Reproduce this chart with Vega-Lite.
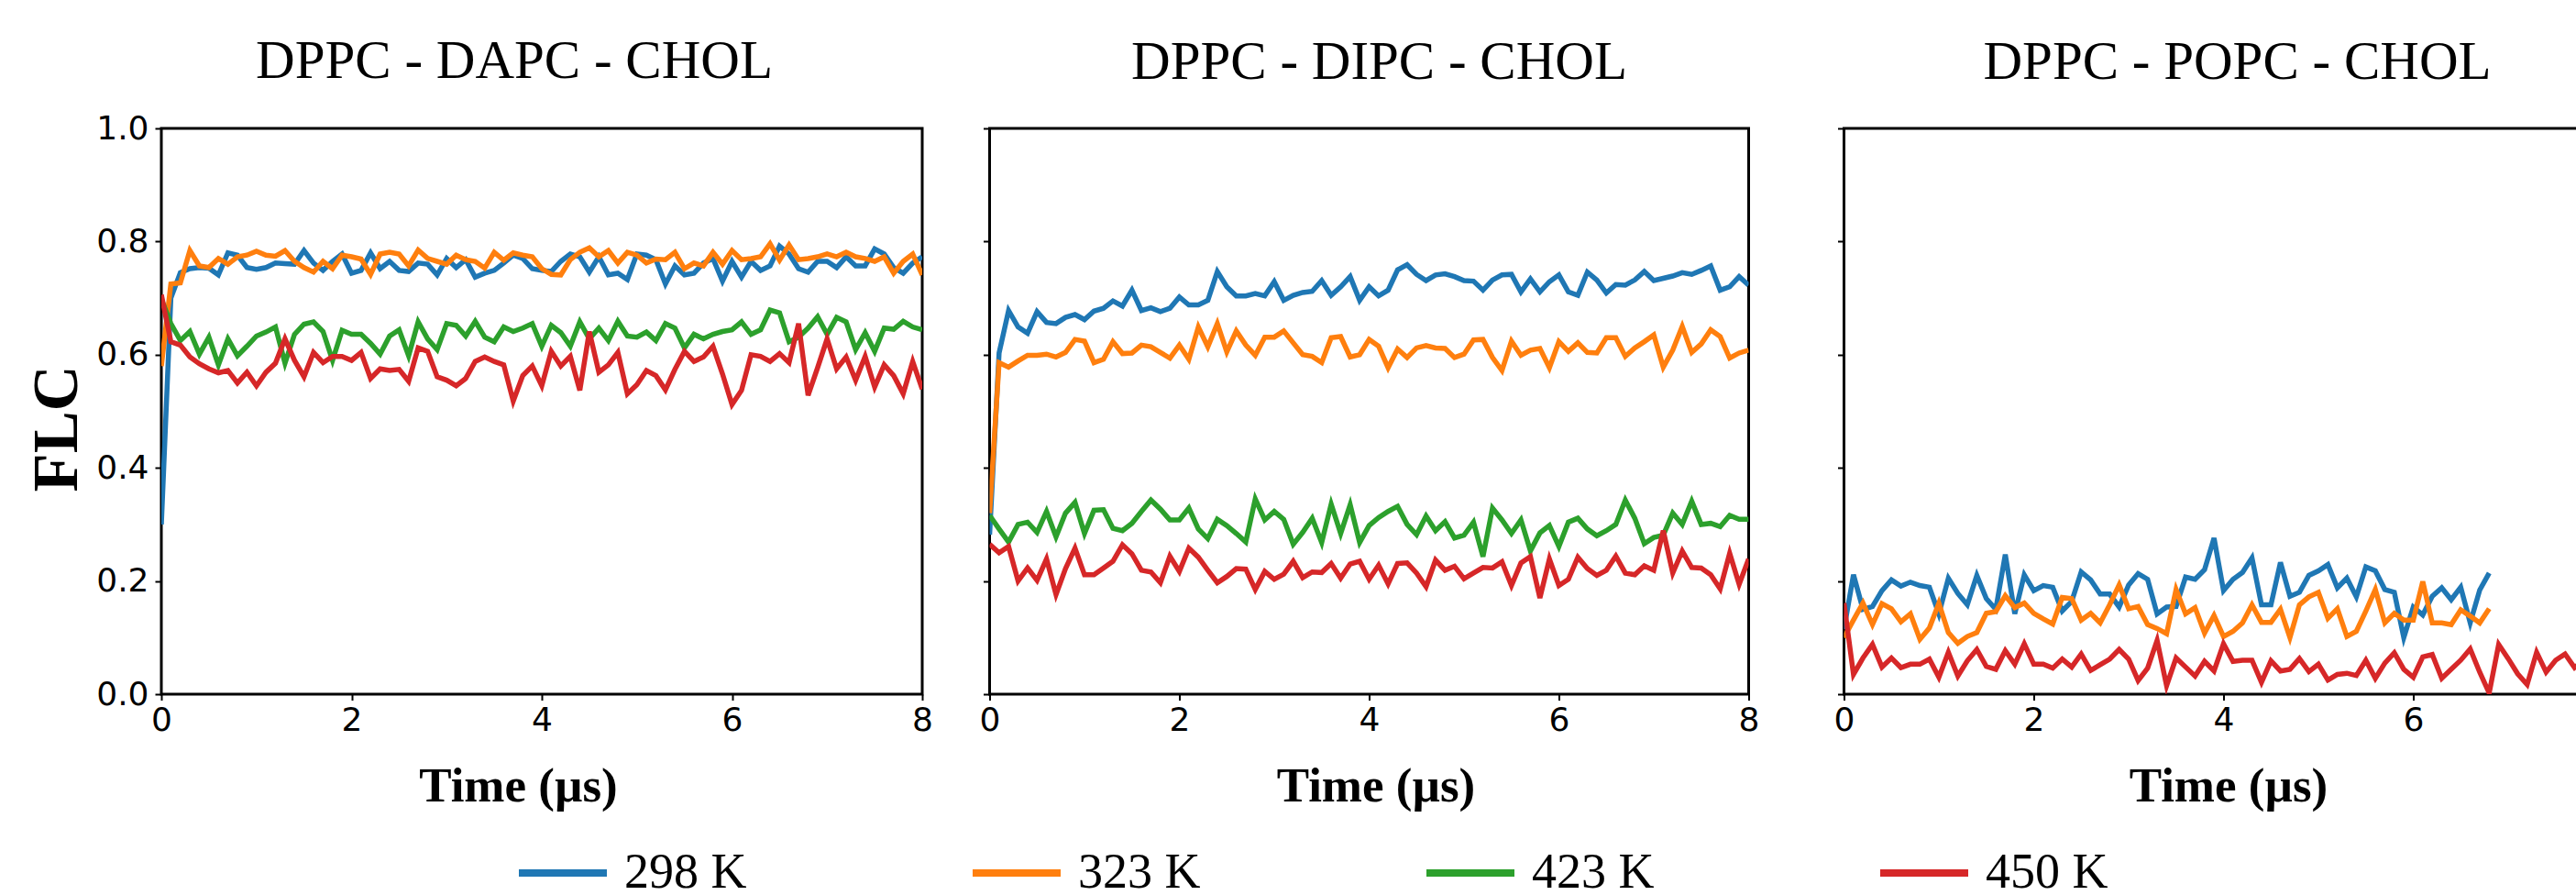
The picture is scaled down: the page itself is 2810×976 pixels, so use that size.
{
"$schema": "https://vega.github.io/schema/vega-lite/v6.json",
"background": "white",
"padding": {"left": 26, "top": 36, "right": 0, "bottom": 0},
"spacing": 77.5,
"datasets": {
"p1": [
{"t":0,"v":0.30,"T":"298 K"},{"t":0.1,"v":0.70,"T":"298 K"},{"t":0.2,"v":0.745,"T":"298 K"},{"t":0.3,"v":0.752,"T":"298 K"},{"t":0.4,"v":0.754,"T":"298 K"},{"t":0.5,"v":0.753,"T":"298 K"},{"t":0.6,"v":0.741,"T":"298 K"},{"t":0.7,"v":0.780,"T":"298 K"},{"t":0.8,"v":0.776,"T":"298 K"},{"t":0.9,"v":0.754,"T":"298 K"},
{"t":1.0,"v":0.751,"T":"298 K"},{"t":1.1,"v":0.754,"T":"298 K"},{"t":1.2,"v":0.762,"T":"298 K"},{"t":1.3,"v":0.761,"T":"298 K"},{"t":1.4,"v":0.760,"T":"298 K"},{"t":1.5,"v":0.784,"T":"298 K"},{"t":1.6,"v":0.762,"T":"298 K"},{"t":1.7,"v":0.749,"T":"298 K"},{"t":1.8,"v":0.765,"T":"298 K"},{"t":1.9,"v":0.778,"T":"298 K"},
{"t":2.0,"v":0.744,"T":"298 K"},{"t":2.1,"v":0.749,"T":"298 K"},{"t":2.2,"v":0.780,"T":"298 K"},{"t":2.3,"v":0.752,"T":"298 K"},{"t":2.4,"v":0.765,"T":"298 K"},{"t":2.5,"v":0.749,"T":"298 K"},{"t":2.6,"v":0.747,"T":"298 K"},{"t":2.7,"v":0.762,"T":"298 K"},{"t":2.8,"v":0.760,"T":"298 K"},{"t":2.9,"v":0.741,"T":"298 K"},
{"t":3.0,"v":0.770,"T":"298 K"},{"t":3.1,"v":0.754,"T":"298 K"},{"t":3.2,"v":0.768,"T":"298 K"},{"t":3.3,"v":0.737,"T":"298 K"},{"t":3.4,"v":0.744,"T":"298 K"},{"t":3.5,"v":0.749,"T":"298 K"},{"t":3.6,"v":0.762,"T":"298 K"},{"t":3.7,"v":0.776,"T":"298 K"},{"t":3.8,"v":0.770,"T":"298 K"},{"t":3.9,"v":0.752,"T":"298 K"},
{"t":4.0,"v":0.749,"T":"298 K"},{"t":4.1,"v":0.747,"T":"298 K"},{"t":4.2,"v":0.765,"T":"298 K"},{"t":4.3,"v":0.778,"T":"298 K"},{"t":4.4,"v":0.773,"T":"298 K"},{"t":4.5,"v":0.746,"T":"298 K"},{"t":4.6,"v":0.773,"T":"298 K"},{"t":4.7,"v":0.741,"T":"298 K"},{"t":4.8,"v":0.744,"T":"298 K"},{"t":4.9,"v":0.733,"T":"298 K"},
{"t":5.0,"v":0.778,"T":"298 K"},{"t":5.1,"v":0.776,"T":"298 K"},{"t":5.2,"v":0.768,"T":"298 K"},{"t":5.3,"v":0.725,"T":"298 K"},{"t":5.4,"v":0.757,"T":"298 K"},{"t":5.5,"v":0.741,"T":"298 K"},{"t":5.6,"v":0.744,"T":"298 K"},{"t":5.7,"v":0.762,"T":"298 K"},{"t":5.8,"v":0.770,"T":"298 K"},{"t":5.9,"v":0.730,"T":"298 K"},
{"t":6.0,"v":0.765,"T":"298 K"},{"t":6.1,"v":0.737,"T":"298 K"},{"t":6.2,"v":0.765,"T":"298 K"},{"t":6.3,"v":0.749,"T":"298 K"},{"t":6.4,"v":0.757,"T":"298 K"},{"t":6.5,"v":0.792,"T":"298 K"},{"t":6.6,"v":0.778,"T":"298 K"},{"t":6.7,"v":0.752,"T":"298 K"},{"t":6.8,"v":0.746,"T":"298 K"},{"t":6.9,"v":0.765,"T":"298 K"},
{"t":7.0,"v":0.765,"T":"298 K"},{"t":7.1,"v":0.754,"T":"298 K"},{"t":7.2,"v":0.773,"T":"298 K"},{"t":7.3,"v":0.757,"T":"298 K"},{"t":7.4,"v":0.757,"T":"298 K"},{"t":7.5,"v":0.787,"T":"298 K"},{"t":7.6,"v":0.778,"T":"298 K"},{"t":7.7,"v":0.754,"T":"298 K"},{"t":7.8,"v":0.744,"T":"298 K"},{"t":7.9,"v":0.762,"T":"298 K"},{"t":8.0,"v":0.773,"T":"298 K"},
{"t":0,"v":0.58,"T":"323 K"},{"t":0.1,"v":0.725,"T":"323 K"},{"t":0.2,"v":0.727,"T":"323 K"},{"t":0.3,"v":0.784,"T":"323 K"},{"t":0.4,"v":0.757,"T":"323 K"},{"t":0.5,"v":0.754,"T":"323 K"},{"t":0.6,"v":0.770,"T":"323 K"},{"t":0.7,"v":0.760,"T":"323 K"},{"t":0.8,"v":0.773,"T":"323 K"},{"t":0.9,"v":0.776,"T":"323 K"},
{"t":1.0,"v":0.783,"T":"323 K"},{"t":1.1,"v":0.776,"T":"323 K"},{"t":1.2,"v":0.774,"T":"323 K"},{"t":1.3,"v":0.784,"T":"323 K"},{"t":1.4,"v":0.765,"T":"323 K"},{"t":1.5,"v":0.754,"T":"323 K"},{"t":1.6,"v":0.746,"T":"323 K"},{"t":1.7,"v":0.765,"T":"323 K"},{"t":1.8,"v":0.752,"T":"323 K"},{"t":1.9,"v":0.776,"T":"323 K"},
{"t":2.0,"v":0.773,"T":"323 K"},{"t":2.1,"v":0.769,"T":"323 K"},{"t":2.2,"v":0.742,"T":"323 K"},{"t":2.3,"v":0.778,"T":"323 K"},{"t":2.4,"v":0.781,"T":"323 K"},{"t":2.5,"v":0.778,"T":"323 K"},{"t":2.6,"v":0.757,"T":"323 K"},{"t":2.7,"v":0.785,"T":"323 K"},{"t":2.8,"v":0.770,"T":"323 K"},{"t":2.9,"v":0.765,"T":"323 K"},
{"t":3.0,"v":0.760,"T":"323 K"},{"t":3.1,"v":0.776,"T":"323 K"},{"t":3.2,"v":0.768,"T":"323 K"},{"t":3.3,"v":0.765,"T":"323 K"},{"t":3.4,"v":0.753,"T":"323 K"},{"t":3.5,"v":0.781,"T":"323 K"},{"t":3.6,"v":0.767,"T":"323 K"},{"t":3.7,"v":0.780,"T":"323 K"},{"t":3.8,"v":0.776,"T":"323 K"},{"t":3.9,"v":0.773,"T":"323 K"},
{"t":4.0,"v":0.752,"T":"323 K"},{"t":4.1,"v":0.742,"T":"323 K"},{"t":4.2,"v":0.741,"T":"323 K"},{"t":4.3,"v":0.768,"T":"323 K"},{"t":4.4,"v":0.781,"T":"323 K"},{"t":4.5,"v":0.789,"T":"323 K"},{"t":4.6,"v":0.773,"T":"323 K"},{"t":4.7,"v":0.784,"T":"323 K"},{"t":4.8,"v":0.762,"T":"323 K"},{"t":4.9,"v":0.781,"T":"323 K"},
{"t":5.0,"v":0.776,"T":"323 K"},{"t":5.1,"v":0.762,"T":"323 K"},{"t":5.2,"v":0.769,"T":"323 K"},{"t":5.3,"v":0.768,"T":"323 K"},{"t":5.4,"v":0.781,"T":"323 K"},{"t":5.5,"v":0.752,"T":"323 K"},{"t":5.6,"v":0.762,"T":"323 K"},{"t":5.7,"v":0.757,"T":"323 K"},{"t":5.8,"v":0.781,"T":"323 K"},{"t":5.9,"v":0.760,"T":"323 K"},
{"t":6.0,"v":0.784,"T":"323 K"},{"t":6.1,"v":0.768,"T":"323 K"},{"t":6.2,"v":0.770,"T":"323 K"},{"t":6.3,"v":0.773,"T":"323 K"},{"t":6.4,"v":0.796,"T":"323 K"},{"t":6.5,"v":0.767,"T":"323 K"},{"t":6.6,"v":0.794,"T":"323 K"},{"t":6.7,"v":0.768,"T":"323 K"},{"t":6.8,"v":0.770,"T":"323 K"},{"t":6.9,"v":0.773,"T":"323 K"},
{"t":7.0,"v":0.778,"T":"323 K"},{"t":7.1,"v":0.773,"T":"323 K"},{"t":7.2,"v":0.781,"T":"323 K"},{"t":7.3,"v":0.773,"T":"323 K"},{"t":7.4,"v":0.770,"T":"323 K"},{"t":7.5,"v":0.765,"T":"323 K"},{"t":7.6,"v":0.773,"T":"323 K"},{"t":7.7,"v":0.744,"T":"323 K"},{"t":7.8,"v":0.765,"T":"323 K"},{"t":7.9,"v":0.778,"T":"323 K"},{"t":8.0,"v":0.741,"T":"323 K"},
{"t":0,"v":0.698,"T":"423 K"},{"t":0.1,"v":0.655,"T":"423 K"},{"t":0.2,"v":0.625,"T":"423 K"},{"t":0.3,"v":0.641,"T":"423 K"},{"t":0.4,"v":0.601,"T":"423 K"},{"t":0.5,"v":0.631,"T":"423 K"},{"t":0.6,"v":0.582,"T":"423 K"},{"t":0.7,"v":0.628,"T":"423 K"},{"t":0.8,"v":0.598,"T":"423 K"},{"t":0.9,"v":0.615,"T":"423 K"},
{"t":1.0,"v":0.633,"T":"423 K"},{"t":1.1,"v":0.640,"T":"423 K"},{"t":1.2,"v":0.649,"T":"423 K"},{"t":1.3,"v":0.585,"T":"423 K"},{"t":1.4,"v":0.636,"T":"423 K"},{"t":1.5,"v":0.654,"T":"423 K"},{"t":1.6,"v":0.658,"T":"423 K"},{"t":1.7,"v":0.641,"T":"423 K"},{"t":1.8,"v":0.590,"T":"423 K"},{"t":1.9,"v":0.643,"T":"423 K"},
{"t":2.0,"v":0.636,"T":"423 K"},{"t":2.1,"v":0.636,"T":"423 K"},{"t":2.2,"v":0.620,"T":"423 K"},{"t":2.3,"v":0.601,"T":"423 K"},{"t":2.4,"v":0.633,"T":"423 K"},{"t":2.5,"v":0.644,"T":"423 K"},{"t":2.6,"v":0.598,"T":"423 K"},{"t":2.7,"v":0.658,"T":"423 K"},{"t":2.8,"v":0.628,"T":"423 K"},{"t":2.9,"v":0.609,"T":"423 K"},
{"t":3.0,"v":0.655,"T":"423 K"},{"t":3.1,"v":0.652,"T":"423 K"},{"t":3.2,"v":0.633,"T":"423 K"},{"t":3.3,"v":0.659,"T":"423 K"},{"t":3.4,"v":0.631,"T":"423 K"},{"t":3.5,"v":0.623,"T":"423 K"},{"t":3.6,"v":0.649,"T":"423 K"},{"t":3.7,"v":0.641,"T":"423 K"},{"t":3.8,"v":0.647,"T":"423 K"},{"t":3.9,"v":0.655,"T":"423 K"},
{"t":4.0,"v":0.615,"T":"423 K"},{"t":4.1,"v":0.652,"T":"423 K"},{"t":4.2,"v":0.639,"T":"423 K"},{"t":4.3,"v":0.615,"T":"423 K"},{"t":4.4,"v":0.658,"T":"423 K"},{"t":4.5,"v":0.628,"T":"423 K"},{"t":4.6,"v":0.647,"T":"423 K"},{"t":4.7,"v":0.625,"T":"423 K"},{"t":4.8,"v":0.659,"T":"423 K"},{"t":4.9,"v":0.633,"T":"423 K"},
{"t":5.0,"v":0.631,"T":"423 K"},{"t":5.1,"v":0.640,"T":"423 K"},{"t":5.2,"v":0.625,"T":"423 K"},{"t":5.3,"v":0.655,"T":"423 K"},{"t":5.4,"v":0.647,"T":"423 K"},{"t":5.5,"v":0.612,"T":"423 K"},{"t":5.6,"v":0.636,"T":"423 K"},{"t":5.7,"v":0.628,"T":"423 K"},{"t":5.8,"v":0.636,"T":"423 K"},{"t":5.9,"v":0.641,"T":"423 K"},
{"t":6.0,"v":0.644,"T":"423 K"},{"t":6.1,"v":0.658,"T":"423 K"},{"t":6.2,"v":0.636,"T":"423 K"},{"t":6.3,"v":0.644,"T":"423 K"},{"t":6.4,"v":0.679,"T":"423 K"},{"t":6.5,"v":0.674,"T":"423 K"},{"t":6.6,"v":0.623,"T":"423 K"},{"t":6.7,"v":0.631,"T":"423 K"},{"t":6.8,"v":0.647,"T":"423 K"},{"t":6.9,"v":0.667,"T":"423 K"},
{"t":7.0,"v":0.636,"T":"423 K"},{"t":7.1,"v":0.666,"T":"423 K"},{"t":7.2,"v":0.658,"T":"423 K"},{"t":7.3,"v":0.609,"T":"423 K"},{"t":7.4,"v":0.639,"T":"423 K"},{"t":7.5,"v":0.606,"T":"423 K"},{"t":7.6,"v":0.647,"T":"423 K"},{"t":7.7,"v":0.645,"T":"423 K"},{"t":7.8,"v":0.659,"T":"423 K"},{"t":7.9,"v":0.649,"T":"423 K"},{"t":8.0,"v":0.644,"T":"423 K"},
{"t":0,"v":0.706,"T":"450 K"},{"t":0.1,"v":0.623,"T":"450 K"},{"t":0.2,"v":0.617,"T":"450 K"},{"t":0.3,"v":0.596,"T":"450 K"},{"t":0.4,"v":0.584,"T":"450 K"},{"t":0.5,"v":0.575,"T":"450 K"},{"t":0.6,"v":0.568,"T":"450 K"},{"t":0.7,"v":0.572,"T":"450 K"},{"t":0.8,"v":0.550,"T":"450 K"},{"t":0.9,"v":0.569,"T":"450 K"},
{"t":1.0,"v":0.545,"T":"450 K"},{"t":1.1,"v":0.569,"T":"450 K"},{"t":1.2,"v":0.585,"T":"450 K"},{"t":1.3,"v":0.628,"T":"450 K"},{"t":1.4,"v":0.590,"T":"450 K"},{"t":1.5,"v":0.561,"T":"450 K"},{"t":1.6,"v":0.604,"T":"450 K"},{"t":1.7,"v":0.586,"T":"450 K"},{"t":1.8,"v":0.597,"T":"450 K"},{"t":1.9,"v":0.597,"T":"450 K"},
{"t":2.0,"v":0.590,"T":"450 K"},{"t":2.1,"v":0.604,"T":"450 K"},{"t":2.2,"v":0.558,"T":"450 K"},{"t":2.3,"v":0.575,"T":"450 K"},{"t":2.4,"v":0.572,"T":"450 K"},{"t":2.5,"v":0.574,"T":"450 K"},{"t":2.6,"v":0.553,"T":"450 K"},{"t":2.7,"v":0.612,"T":"450 K"},{"t":2.8,"v":0.606,"T":"450 K"},{"t":2.9,"v":0.561,"T":"450 K"},
{"t":3.0,"v":0.555,"T":"450 K"},{"t":3.1,"v":0.545,"T":"450 K"},{"t":3.2,"v":0.558,"T":"450 K"},{"t":3.3,"v":0.588,"T":"450 K"},{"t":3.4,"v":0.596,"T":"450 K"},{"t":3.5,"v":0.588,"T":"450 K"},{"t":3.6,"v":0.582,"T":"450 K"},{"t":3.7,"v":0.518,"T":"450 K"},{"t":3.8,"v":0.563,"T":"450 K"},{"t":3.9,"v":0.580,"T":"450 K"},
{"t":4.0,"v":0.545,"T":"450 K"},{"t":4.1,"v":0.606,"T":"450 K"},{"t":4.2,"v":0.580,"T":"450 K"},{"t":4.3,"v":0.597,"T":"450 K"},{"t":4.4,"v":0.537,"T":"450 K"},{"t":4.5,"v":0.641,"T":"450 K"},{"t":4.6,"v":0.569,"T":"450 K"},{"t":4.7,"v":0.582,"T":"450 K"},{"t":4.8,"v":0.604,"T":"450 K"},{"t":4.9,"v":0.531,"T":"450 K"},
{"t":5.0,"v":0.547,"T":"450 K"},{"t":5.1,"v":0.572,"T":"450 K"},{"t":5.2,"v":0.563,"T":"450 K"},{"t":5.3,"v":0.538,"T":"450 K"},{"t":5.4,"v":0.574,"T":"450 K"},{"t":5.5,"v":0.606,"T":"450 K"},{"t":5.6,"v":0.588,"T":"450 K"},{"t":5.7,"v":0.596,"T":"450 K"},{"t":5.8,"v":0.615,"T":"450 K"},{"t":5.9,"v":0.566,"T":"450 K"},
{"t":6.0,"v":0.512,"T":"450 K"},{"t":6.1,"v":0.537,"T":"450 K"},{"t":6.2,"v":0.600,"T":"450 K"},{"t":6.3,"v":0.597,"T":"450 K"},{"t":6.4,"v":0.588,"T":"450 K"},{"t":6.5,"v":0.602,"T":"450 K"},{"t":6.6,"v":0.586,"T":"450 K"},{"t":6.7,"v":0.655,"T":"450 K"},{"t":6.8,"v":0.528,"T":"450 K"},{"t":6.9,"v":0.577,"T":"450 K"},
{"t":7.0,"v":0.628,"T":"450 K"},{"t":7.1,"v":0.575,"T":"450 K"},{"t":7.2,"v":0.596,"T":"450 K"},{"t":7.3,"v":0.555,"T":"450 K"},{"t":7.4,"v":0.597,"T":"450 K"},{"t":7.5,"v":0.543,"T":"450 K"},{"t":7.6,"v":0.582,"T":"450 K"},{"t":7.7,"v":0.563,"T":"450 K"},{"t":7.8,"v":0.531,"T":"450 K"},{"t":7.9,"v":0.588,"T":"450 K"},{"t":8.0,"v":0.539,"T":"450 K"}
],
"p2": [
{"t":0,"v":0.282,"T":"298 K"},{"t":0.1,"v":0.603,"T":"298 K"},{"t":0.2,"v":0.678,"T":"298 K"},{"t":0.3,"v":0.649,"T":"298 K"},{"t":0.4,"v":0.638,"T":"298 K"},{"t":0.5,"v":0.676,"T":"298 K"},{"t":0.6,"v":0.657,"T":"298 K"},{"t":0.7,"v":0.655,"T":"298 K"},{"t":0.8,"v":0.666,"T":"298 K"},{"t":0.9,"v":0.671,"T":"298 K"},
{"t":1.0,"v":0.662,"T":"298 K"},{"t":1.1,"v":0.677,"T":"298 K"},{"t":1.2,"v":0.682,"T":"298 K"},{"t":1.3,"v":0.695,"T":"298 K"},{"t":1.4,"v":0.686,"T":"298 K"},{"t":1.5,"v":0.714,"T":"298 K"},{"t":1.6,"v":0.678,"T":"298 K"},{"t":1.7,"v":0.683,"T":"298 K"},{"t":1.8,"v":0.676,"T":"298 K"},{"t":1.9,"v":0.682,"T":"298 K"},
{"t":2.0,"v":0.702,"T":"298 K"},{"t":2.1,"v":0.688,"T":"298 K"},{"t":2.2,"v":0.688,"T":"298 K"},{"t":2.3,"v":0.696,"T":"298 K"},{"t":2.4,"v":0.747,"T":"298 K"},{"t":2.5,"v":0.720,"T":"298 K"},{"t":2.6,"v":0.704,"T":"298 K"},{"t":2.7,"v":0.704,"T":"298 K"},{"t":2.8,"v":0.708,"T":"298 K"},{"t":2.9,"v":0.704,"T":"298 K"},
{"t":3.0,"v":0.729,"T":"298 K"},{"t":3.1,"v":0.696,"T":"298 K"},{"t":3.2,"v":0.705,"T":"298 K"},{"t":3.3,"v":0.710,"T":"298 K"},{"t":3.4,"v":0.712,"T":"298 K"},{"t":3.5,"v":0.731,"T":"298 K"},{"t":3.6,"v":0.705,"T":"298 K"},{"t":3.7,"v":0.720,"T":"298 K"},{"t":3.8,"v":0.738,"T":"298 K"},{"t":3.9,"v":0.696,"T":"298 K"},
{"t":4.0,"v":0.720,"T":"298 K"},{"t":4.1,"v":0.704,"T":"298 K"},{"t":4.2,"v":0.714,"T":"298 K"},{"t":4.3,"v":0.750,"T":"298 K"},{"t":4.4,"v":0.759,"T":"298 K"},{"t":4.5,"v":0.742,"T":"298 K"},{"t":4.6,"v":0.731,"T":"298 K"},{"t":4.7,"v":0.741,"T":"298 K"},{"t":4.8,"v":0.743,"T":"298 K"},{"t":4.9,"v":0.738,"T":"298 K"},
{"t":5.0,"v":0.731,"T":"298 K"},{"t":5.1,"v":0.730,"T":"298 K"},{"t":5.2,"v":0.714,"T":"298 K"},{"t":5.3,"v":0.732,"T":"298 K"},{"t":5.4,"v":0.741,"T":"298 K"},{"t":5.5,"v":0.742,"T":"298 K"},{"t":5.6,"v":0.711,"T":"298 K"},{"t":5.7,"v":0.734,"T":"298 K"},{"t":5.8,"v":0.711,"T":"298 K"},{"t":5.9,"v":0.729,"T":"298 K"},
{"t":6.0,"v":0.741,"T":"298 K"},{"t":6.1,"v":0.711,"T":"298 K"},{"t":6.2,"v":0.705,"T":"298 K"},{"t":6.3,"v":0.746,"T":"298 K"},{"t":6.4,"v":0.732,"T":"298 K"},{"t":6.5,"v":0.709,"T":"298 K"},{"t":6.6,"v":0.724,"T":"298 K"},{"t":6.7,"v":0.723,"T":"298 K"},{"t":6.8,"v":0.732,"T":"298 K"},{"t":6.9,"v":0.747,"T":"298 K"},
{"t":7.0,"v":0.731,"T":"298 K"},{"t":7.1,"v":0.735,"T":"298 K"},{"t":7.2,"v":0.739,"T":"298 K"},{"t":7.3,"v":0.745,"T":"298 K"},{"t":7.4,"v":0.742,"T":"298 K"},{"t":7.5,"v":0.749,"T":"298 K"},{"t":7.6,"v":0.757,"T":"298 K"},{"t":7.7,"v":0.714,"T":"298 K"},{"t":7.8,"v":0.720,"T":"298 K"},{"t":7.9,"v":0.738,"T":"298 K"},{"t":8.0,"v":0.723,"T":"298 K"},
{"t":0,"v":0.32,"T":"323 K"},{"t":0.1,"v":0.586,"T":"323 K"},{"t":0.2,"v":0.578,"T":"323 K"},{"t":0.3,"v":0.589,"T":"323 K"},{"t":0.4,"v":0.599,"T":"323 K"},{"t":0.5,"v":0.599,"T":"323 K"},{"t":0.6,"v":0.601,"T":"323 K"},{"t":0.7,"v":0.596,"T":"323 K"},{"t":0.8,"v":0.604,"T":"323 K"},{"t":0.9,"v":0.627,"T":"323 K"},
{"t":1.0,"v":0.624,"T":"323 K"},{"t":1.1,"v":0.586,"T":"323 K"},{"t":1.2,"v":0.592,"T":"323 K"},{"t":1.3,"v":0.623,"T":"323 K"},{"t":1.4,"v":0.602,"T":"323 K"},{"t":1.5,"v":0.603,"T":"323 K"},{"t":1.6,"v":0.617,"T":"323 K"},{"t":1.7,"v":0.614,"T":"323 K"},{"t":1.8,"v":0.604,"T":"323 K"},{"t":1.9,"v":0.594,"T":"323 K"},
{"t":2.0,"v":0.617,"T":"323 K"},{"t":2.1,"v":0.592,"T":"323 K"},{"t":2.2,"v":0.649,"T":"323 K"},{"t":2.3,"v":0.614,"T":"323 K"},{"t":2.4,"v":0.655,"T":"323 K"},{"t":2.5,"v":0.605,"T":"323 K"},{"t":2.6,"v":0.642,"T":"323 K"},{"t":2.7,"v":0.617,"T":"323 K"},{"t":2.8,"v":0.599,"T":"323 K"},{"t":2.9,"v":0.631,"T":"323 K"},
{"t":3.0,"v":0.631,"T":"323 K"},{"t":3.1,"v":0.642,"T":"323 K"},{"t":3.2,"v":0.621,"T":"323 K"},{"t":3.3,"v":0.600,"T":"323 K"},{"t":3.4,"v":0.597,"T":"323 K"},{"t":3.5,"v":0.586,"T":"323 K"},{"t":3.6,"v":0.630,"T":"323 K"},{"t":3.7,"v":0.632,"T":"323 K"},{"t":3.8,"v":0.596,"T":"323 K"},{"t":3.9,"v":0.600,"T":"323 K"},
{"t":4.0,"v":0.627,"T":"323 K"},{"t":4.1,"v":0.615,"T":"323 K"},{"t":4.2,"v":0.577,"T":"323 K"},{"t":4.3,"v":0.610,"T":"323 K"},{"t":4.4,"v":0.595,"T":"323 K"},{"t":4.5,"v":0.612,"T":"323 K"},{"t":4.6,"v":0.616,"T":"323 K"},{"t":4.7,"v":0.612,"T":"323 K"},{"t":4.8,"v":0.611,"T":"323 K"},{"t":4.9,"v":0.595,"T":"323 K"},
{"t":5.0,"v":0.601,"T":"323 K"},{"t":5.1,"v":0.626,"T":"323 K"},{"t":5.2,"v":0.627,"T":"323 K"},{"t":5.3,"v":0.595,"T":"323 K"},{"t":5.4,"v":0.572,"T":"323 K"},{"t":5.5,"v":0.624,"T":"323 K"},{"t":5.6,"v":0.599,"T":"323 K"},{"t":5.7,"v":0.608,"T":"323 K"},{"t":5.8,"v":0.611,"T":"323 K"},{"t":5.9,"v":0.577,"T":"323 K"},
{"t":6.0,"v":0.623,"T":"323 K"},{"t":6.1,"v":0.606,"T":"323 K"},{"t":6.2,"v":0.621,"T":"323 K"},{"t":6.3,"v":0.604,"T":"323 K"},{"t":6.4,"v":0.603,"T":"323 K"},{"t":6.5,"v":0.630,"T":"323 K"},{"t":6.6,"v":0.630,"T":"323 K"},{"t":6.7,"v":0.597,"T":"323 K"},{"t":6.8,"v":0.612,"T":"323 K"},{"t":6.9,"v":0.623,"T":"323 K"},
{"t":7.0,"v":0.635,"T":"323 K"},{"t":7.1,"v":0.578,"T":"323 K"},{"t":7.2,"v":0.608,"T":"323 K"},{"t":7.3,"v":0.650,"T":"323 K"},{"t":7.4,"v":0.604,"T":"323 K"},{"t":7.5,"v":0.619,"T":"323 K"},{"t":7.6,"v":0.644,"T":"323 K"},{"t":7.7,"v":0.632,"T":"323 K"},{"t":7.8,"v":0.594,"T":"323 K"},{"t":7.9,"v":0.603,"T":"323 K"},{"t":8.0,"v":0.608,"T":"323 K"},
{"t":0,"v":0.316,"T":"423 K"},{"t":0.1,"v":0.292,"T":"423 K"},{"t":0.2,"v":0.269,"T":"423 K"},{"t":0.3,"v":0.300,"T":"423 K"},{"t":0.4,"v":0.304,"T":"423 K"},{"t":0.5,"v":0.286,"T":"423 K"},{"t":0.6,"v":0.323,"T":"423 K"},{"t":0.7,"v":0.278,"T":"423 K"},{"t":0.8,"v":0.320,"T":"423 K"},{"t":0.9,"v":0.339,"T":"423 K"},
{"t":1.0,"v":0.284,"T":"423 K"},{"t":1.1,"v":0.325,"T":"423 K"},{"t":1.2,"v":0.326,"T":"423 K"},{"t":1.3,"v":0.293,"T":"423 K"},{"t":1.4,"v":0.289,"T":"423 K"},{"t":1.5,"v":0.302,"T":"423 K"},{"t":1.6,"v":0.323,"T":"423 K"},{"t":1.7,"v":0.343,"T":"423 K"},{"t":1.8,"v":0.327,"T":"423 K"},{"t":1.9,"v":0.308,"T":"423 K"},
{"t":2.0,"v":0.308,"T":"423 K"},{"t":2.1,"v":0.329,"T":"423 K"},{"t":2.2,"v":0.292,"T":"423 K"},{"t":2.3,"v":0.275,"T":"423 K"},{"t":2.4,"v":0.309,"T":"423 K"},{"t":2.5,"v":0.298,"T":"423 K"},{"t":2.6,"v":0.284,"T":"423 K"},{"t":2.7,"v":0.269,"T":"423 K"},{"t":2.8,"v":0.345,"T":"423 K"},{"t":2.9,"v":0.308,"T":"423 K"},
{"t":3.0,"v":0.323,"T":"423 K"},{"t":3.1,"v":0.309,"T":"423 K"},{"t":3.2,"v":0.265,"T":"423 K"},{"t":3.3,"v":0.286,"T":"423 K"},{"t":3.4,"v":0.311,"T":"423 K"},{"t":3.5,"v":0.268,"T":"423 K"},{"t":3.6,"v":0.336,"T":"423 K"},{"t":3.7,"v":0.284,"T":"423 K"},{"t":3.8,"v":0.335,"T":"423 K"},{"t":3.9,"v":0.268,"T":"423 K"},
{"t":4.0,"v":0.298,"T":"423 K"},{"t":4.1,"v":0.312,"T":"423 K"},{"t":4.2,"v":0.323,"T":"423 K"},{"t":4.3,"v":0.332,"T":"423 K"},{"t":4.4,"v":0.300,"T":"423 K"},{"t":4.5,"v":0.282,"T":"423 K"},{"t":4.6,"v":0.315,"T":"423 K"},{"t":4.7,"v":0.289,"T":"423 K"},{"t":4.8,"v":0.305,"T":"423 K"},{"t":4.9,"v":0.276,"T":"423 K"},
{"t":5.0,"v":0.281,"T":"423 K"},{"t":5.1,"v":0.304,"T":"423 K"},{"t":5.2,"v":0.243,"T":"423 K"},{"t":5.3,"v":0.329,"T":"423 K"},{"t":5.4,"v":0.308,"T":"423 K"},{"t":5.5,"v":0.284,"T":"423 K"},{"t":5.6,"v":0.308,"T":"423 K"},{"t":5.7,"v":0.253,"T":"423 K"},{"t":5.8,"v":0.285,"T":"423 K"},{"t":5.9,"v":0.298,"T":"423 K"},
{"t":6.0,"v":0.261,"T":"423 K"},{"t":6.1,"v":0.304,"T":"423 K"},{"t":6.2,"v":0.311,"T":"423 K"},{"t":6.3,"v":0.292,"T":"423 K"},{"t":6.4,"v":0.280,"T":"423 K"},{"t":6.5,"v":0.289,"T":"423 K"},{"t":6.6,"v":0.300,"T":"423 K"},{"t":6.7,"v":0.343,"T":"423 K"},{"t":6.8,"v":0.311,"T":"423 K"},{"t":6.9,"v":0.266,"T":"423 K"},
{"t":7.0,"v":0.277,"T":"423 K"},{"t":7.1,"v":0.281,"T":"423 K"},{"t":7.2,"v":0.320,"T":"423 K"},{"t":7.3,"v":0.300,"T":"423 K"},{"t":7.4,"v":0.341,"T":"423 K"},{"t":7.5,"v":0.300,"T":"423 K"},{"t":7.6,"v":0.302,"T":"423 K"},{"t":7.7,"v":0.296,"T":"423 K"},{"t":7.8,"v":0.316,"T":"423 K"},{"t":7.9,"v":0.309,"T":"423 K"},{"t":8.0,"v":0.309,"T":"423 K"},
{"t":0,"v":0.265,"T":"450 K"},{"t":0.1,"v":0.250,"T":"450 K"},{"t":0.2,"v":0.261,"T":"450 K"},{"t":0.3,"v":0.200,"T":"450 K"},{"t":0.4,"v":0.223,"T":"450 K"},{"t":0.5,"v":0.201,"T":"450 K"},{"t":0.6,"v":0.239,"T":"450 K"},{"t":0.7,"v":0.176,"T":"450 K"},{"t":0.8,"v":0.222,"T":"450 K"},{"t":0.9,"v":0.258,"T":"450 K"},
{"t":1.0,"v":0.211,"T":"450 K"},{"t":1.1,"v":0.211,"T":"450 K"},{"t":1.2,"v":0.223,"T":"450 K"},{"t":1.3,"v":0.235,"T":"450 K"},{"t":1.4,"v":0.264,"T":"450 K"},{"t":1.5,"v":0.248,"T":"450 K"},{"t":1.6,"v":0.219,"T":"450 K"},{"t":1.7,"v":0.216,"T":"450 K"},{"t":1.8,"v":0.197,"T":"450 K"},{"t":1.9,"v":0.244,"T":"450 K"},
{"t":2.0,"v":0.217,"T":"450 K"},{"t":2.1,"v":0.258,"T":"450 K"},{"t":2.2,"v":0.242,"T":"450 K"},{"t":2.3,"v":0.219,"T":"450 K"},{"t":2.4,"v":0.197,"T":"450 K"},{"t":2.5,"v":0.208,"T":"450 K"},{"t":2.6,"v":0.222,"T":"450 K"},{"t":2.7,"v":0.221,"T":"450 K"},{"t":2.8,"v":0.185,"T":"450 K"},{"t":2.9,"v":0.217,"T":"450 K"},
{"t":3.0,"v":0.203,"T":"450 K"},{"t":3.1,"v":0.212,"T":"450 K"},{"t":3.2,"v":0.235,"T":"450 K"},{"t":3.3,"v":0.206,"T":"450 K"},{"t":3.4,"v":0.216,"T":"450 K"},{"t":3.5,"v":0.215,"T":"450 K"},{"t":3.6,"v":0.231,"T":"450 K"},{"t":3.7,"v":0.205,"T":"450 K"},{"t":3.8,"v":0.230,"T":"450 K"},{"t":3.9,"v":0.235,"T":"450 K"},
{"t":4.0,"v":0.203,"T":"450 K"},{"t":4.1,"v":0.228,"T":"450 K"},{"t":4.2,"v":0.195,"T":"450 K"},{"t":4.3,"v":0.231,"T":"450 K"},{"t":4.4,"v":0.232,"T":"450 K"},{"t":4.5,"v":0.214,"T":"450 K"},{"t":4.6,"v":0.190,"T":"450 K"},{"t":4.7,"v":0.237,"T":"450 K"},{"t":4.8,"v":0.219,"T":"450 K"},{"t":4.9,"v":0.226,"T":"450 K"},
{"t":5.0,"v":0.204,"T":"450 K"},{"t":5.1,"v":0.214,"T":"450 K"},{"t":5.2,"v":0.224,"T":"450 K"},{"t":5.3,"v":0.223,"T":"450 K"},{"t":5.4,"v":0.234,"T":"450 K"},{"t":5.5,"v":0.192,"T":"450 K"},{"t":5.6,"v":0.232,"T":"450 K"},{"t":5.7,"v":0.243,"T":"450 K"},{"t":5.8,"v":0.170,"T":"450 K"},{"t":5.9,"v":0.239,"T":"450 K"},
{"t":6.0,"v":0.192,"T":"450 K"},{"t":6.1,"v":0.203,"T":"450 K"},{"t":6.2,"v":0.242,"T":"450 K"},{"t":6.3,"v":0.222,"T":"450 K"},{"t":6.4,"v":0.210,"T":"450 K"},{"t":6.5,"v":0.219,"T":"450 K"},{"t":6.6,"v":0.244,"T":"450 K"},{"t":6.7,"v":0.214,"T":"450 K"},{"t":6.8,"v":0.211,"T":"450 K"},{"t":6.9,"v":0.227,"T":"450 K"},
{"t":7.0,"v":0.219,"T":"450 K"},{"t":7.1,"v":0.289,"T":"450 K"},{"t":7.2,"v":0.214,"T":"450 K"},{"t":7.3,"v":0.253,"T":"450 K"},{"t":7.4,"v":0.224,"T":"450 K"},{"t":7.5,"v":0.223,"T":"450 K"},{"t":7.6,"v":0.211,"T":"450 K"},{"t":7.7,"v":0.186,"T":"450 K"},{"t":7.8,"v":0.249,"T":"450 K"},{"t":7.9,"v":0.194,"T":"450 K"},{"t":8.0,"v":0.239,"T":"450 K"}
],
"p3": [
{"t":0,"v":0.115,"T":"298 K"},{"t":0.1,"v":0.211,"T":"298 K"},{"t":0.2,"v":0.150,"T":"298 K"},{"t":0.3,"v":0.155,"T":"298 K"},{"t":0.4,"v":0.183,"T":"298 K"},{"t":0.5,"v":0.202,"T":"298 K"},{"t":0.6,"v":0.191,"T":"298 K"},{"t":0.7,"v":0.198,"T":"298 K"},{"t":0.8,"v":0.192,"T":"298 K"},{"t":0.9,"v":0.189,"T":"298 K"},
{"t":1.0,"v":0.142,"T":"298 K"},{"t":1.1,"v":0.205,"T":"298 K"},{"t":1.2,"v":0.178,"T":"298 K"},{"t":1.3,"v":0.158,"T":"298 K"},{"t":1.4,"v":0.210,"T":"298 K"},{"t":1.5,"v":0.169,"T":"298 K"},{"t":1.6,"v":0.150,"T":"298 K"},{"t":1.7,"v":0.247,"T":"298 K"},{"t":1.8,"v":0.142,"T":"298 K"},{"t":1.9,"v":0.211,"T":"298 K"},
{"t":2.0,"v":0.183,"T":"298 K"},{"t":2.1,"v":0.192,"T":"298 K"},{"t":2.2,"v":0.189,"T":"298 K"},{"t":2.3,"v":0.147,"T":"298 K"},{"t":2.4,"v":0.164,"T":"298 K"},{"t":2.5,"v":0.216,"T":"298 K"},{"t":2.6,"v":0.202,"T":"298 K"},{"t":2.7,"v":0.177,"T":"298 K"},{"t":2.8,"v":0.177,"T":"298 K"},{"t":2.9,"v":0.154,"T":"298 K"},
{"t":3.0,"v":0.193,"T":"298 K"},{"t":3.1,"v":0.213,"T":"298 K"},{"t":3.2,"v":0.203,"T":"298 K"},{"t":3.3,"v":0.142,"T":"298 K"},{"t":3.4,"v":0.154,"T":"298 K"},{"t":3.5,"v":0.155,"T":"298 K"},{"t":3.6,"v":0.207,"T":"298 K"},{"t":3.7,"v":0.203,"T":"298 K"},{"t":3.8,"v":0.220,"T":"298 K"},{"t":3.9,"v":0.276,"T":"298 K"},
{"t":4.0,"v":0.183,"T":"298 K"},{"t":4.1,"v":0.203,"T":"298 K"},{"t":4.2,"v":0.215,"T":"298 K"},{"t":4.3,"v":0.241,"T":"298 K"},{"t":4.4,"v":0.158,"T":"298 K"},{"t":4.5,"v":0.158,"T":"298 K"},{"t":4.6,"v":0.233,"T":"298 K"},{"t":4.7,"v":0.173,"T":"298 K"},{"t":4.8,"v":0.180,"T":"298 K"},{"t":4.9,"v":0.210,"T":"298 K"},
{"t":5.0,"v":0.218,"T":"298 K"},{"t":5.1,"v":0.229,"T":"298 K"},{"t":5.2,"v":0.188,"T":"298 K"},{"t":5.3,"v":0.205,"T":"298 K"},{"t":5.4,"v":0.172,"T":"298 K"},{"t":5.5,"v":0.225,"T":"298 K"},{"t":5.6,"v":0.218,"T":"298 K"},{"t":5.7,"v":0.185,"T":"298 K"},{"t":5.8,"v":0.180,"T":"298 K"},{"t":5.9,"v":0.100,"T":"298 K"},
{"t":6.0,"v":0.154,"T":"298 K"},{"t":6.1,"v":0.140,"T":"298 K"},{"t":6.2,"v":0.173,"T":"298 K"},{"t":6.3,"v":0.188,"T":"298 K"},{"t":6.4,"v":0.167,"T":"298 K"},{"t":6.5,"v":0.189,"T":"298 K"},{"t":6.6,"v":0.126,"T":"298 K"},{"t":6.7,"v":0.184,"T":"298 K"},{"t":6.8,"v":0.214,"T":"298 K"},
{"t":0,"v":0.10,"T":"323 K"},{"t":0.1,"v":0.131,"T":"323 K"},{"t":0.2,"v":0.161,"T":"323 K"},{"t":0.3,"v":0.123,"T":"323 K"},{"t":0.4,"v":0.160,"T":"323 K"},{"t":0.5,"v":0.151,"T":"323 K"},{"t":0.6,"v":0.128,"T":"323 K"},{"t":0.7,"v":0.142,"T":"323 K"},{"t":0.8,"v":0.097,"T":"323 K"},{"t":0.9,"v":0.117,"T":"323 K"},
{"t":1.0,"v":0.161,"T":"323 K"},{"t":1.1,"v":0.109,"T":"323 K"},{"t":1.2,"v":0.090,"T":"323 K"},{"t":1.3,"v":0.102,"T":"323 K"},{"t":1.4,"v":0.109,"T":"323 K"},{"t":1.5,"v":0.143,"T":"323 K"},{"t":1.6,"v":0.146,"T":"323 K"},{"t":1.7,"v":0.174,"T":"323 K"},{"t":1.8,"v":0.153,"T":"323 K"},{"t":1.9,"v":0.161,"T":"323 K"},
{"t":2.0,"v":0.143,"T":"323 K"},{"t":2.1,"v":0.133,"T":"323 K"},{"t":2.2,"v":0.124,"T":"323 K"},{"t":2.3,"v":0.171,"T":"323 K"},{"t":2.4,"v":0.169,"T":"323 K"},{"t":2.5,"v":0.131,"T":"323 K"},{"t":2.6,"v":0.143,"T":"323 K"},{"t":2.7,"v":0.126,"T":"323 K"},{"t":2.8,"v":0.158,"T":"323 K"},{"t":2.9,"v":0.193,"T":"323 K"},
{"t":3.0,"v":0.151,"T":"323 K"},{"t":3.1,"v":0.155,"T":"323 K"},{"t":3.2,"v":0.123,"T":"323 K"},{"t":3.3,"v":0.116,"T":"323 K"},{"t":3.4,"v":0.107,"T":"323 K"},{"t":3.5,"v":0.185,"T":"323 K"},{"t":3.6,"v":0.142,"T":"323 K"},{"t":3.7,"v":0.153,"T":"323 K"},{"t":3.8,"v":0.108,"T":"323 K"},{"t":3.9,"v":0.139,"T":"323 K"},
{"t":4.0,"v":0.102,"T":"323 K"},{"t":4.1,"v":0.111,"T":"323 K"},{"t":4.2,"v":0.126,"T":"323 K"},{"t":4.3,"v":0.158,"T":"323 K"},{"t":4.4,"v":0.127,"T":"323 K"},{"t":4.5,"v":0.127,"T":"323 K"},{"t":4.6,"v":0.150,"T":"323 K"},{"t":4.7,"v":0.100,"T":"323 K"},{"t":4.8,"v":0.158,"T":"323 K"},{"t":4.9,"v":0.172,"T":"323 K"},
{"t":5.0,"v":0.180,"T":"323 K"},{"t":5.1,"v":0.134,"T":"323 K"},{"t":5.2,"v":0.151,"T":"323 K"},{"t":5.3,"v":0.102,"T":"323 K"},{"t":5.4,"v":0.111,"T":"323 K"},{"t":5.5,"v":0.147,"T":"323 K"},{"t":5.6,"v":0.185,"T":"323 K"},{"t":5.7,"v":0.126,"T":"323 K"},{"t":5.8,"v":0.143,"T":"323 K"},{"t":5.9,"v":0.131,"T":"323 K"},
{"t":6.0,"v":0.131,"T":"323 K"},{"t":6.1,"v":0.199,"T":"323 K"},{"t":6.2,"v":0.126,"T":"323 K"},{"t":6.3,"v":0.126,"T":"323 K"},{"t":6.4,"v":0.123,"T":"323 K"},{"t":6.5,"v":0.149,"T":"323 K"},{"t":6.6,"v":0.138,"T":"323 K"},{"t":6.7,"v":0.126,"T":"323 K"},{"t":6.8,"v":0.151,"T":"323 K"},
{"t":0,"v":0.161,"T":"450 K"},{"t":0.1,"v":0.035,"T":"450 K"},{"t":0.2,"v":0.064,"T":"450 K"},{"t":0.3,"v":0.088,"T":"450 K"},{"t":0.4,"v":0.048,"T":"450 K"},{"t":0.5,"v":0.064,"T":"450 K"},{"t":0.6,"v":0.047,"T":"450 K"},{"t":0.7,"v":0.053,"T":"450 K"},{"t":0.8,"v":0.053,"T":"450 K"},{"t":0.9,"v":0.062,"T":"450 K"},
{"t":1.0,"v":0.030,"T":"450 K"},{"t":1.1,"v":0.074,"T":"450 K"},{"t":1.2,"v":0.032,"T":"450 K"},{"t":1.3,"v":0.059,"T":"450 K"},{"t":1.4,"v":0.079,"T":"450 K"},{"t":1.5,"v":0.049,"T":"450 K"},{"t":1.6,"v":0.044,"T":"450 K"},{"t":1.7,"v":0.077,"T":"450 K"},{"t":1.8,"v":0.053,"T":"450 K"},{"t":1.9,"v":0.089,"T":"450 K"},
{"t":2.0,"v":0.053,"T":"450 K"},{"t":2.1,"v":0.053,"T":"450 K"},{"t":2.2,"v":0.046,"T":"450 K"},{"t":2.3,"v":0.062,"T":"450 K"},{"t":2.4,"v":0.048,"T":"450 K"},{"t":2.5,"v":0.071,"T":"450 K"},{"t":2.6,"v":0.042,"T":"450 K"},{"t":2.7,"v":0.052,"T":"450 K"},{"t":2.8,"v":0.062,"T":"450 K"},{"t":2.9,"v":0.079,"T":"450 K"},
{"t":3.0,"v":0.062,"T":"450 K"},{"t":3.1,"v":0.024,"T":"450 K"},{"t":3.2,"v":0.046,"T":"450 K"},{"t":3.3,"v":0.095,"T":"450 K"},{"t":3.4,"v":0.015,"T":"450 K"},{"t":3.5,"v":0.064,"T":"450 K"},{"t":3.6,"v":0.048,"T":"450 K"},{"t":3.7,"v":0.032,"T":"450 K"},{"t":3.8,"v":0.058,"T":"450 K"},{"t":3.9,"v":0.041,"T":"450 K"},
{"t":4.0,"v":0.089,"T":"450 K"},{"t":4.1,"v":0.058,"T":"450 K"},{"t":4.2,"v":0.060,"T":"450 K"},{"t":4.3,"v":0.060,"T":"450 K"},{"t":4.4,"v":0.021,"T":"450 K"},{"t":4.5,"v":0.059,"T":"450 K"},{"t":4.6,"v":0.041,"T":"450 K"},{"t":4.7,"v":0.044,"T":"450 K"},{"t":4.8,"v":0.063,"T":"450 K"},{"t":4.9,"v":0.040,"T":"450 K"},
{"t":5.0,"v":0.053,"T":"450 K"},{"t":5.1,"v":0.025,"T":"450 K"},{"t":5.2,"v":0.035,"T":"450 K"},{"t":5.3,"v":0.037,"T":"450 K"},{"t":5.4,"v":0.033,"T":"450 K"},{"t":5.5,"v":0.060,"T":"450 K"},{"t":5.6,"v":0.028,"T":"450 K"},{"t":5.7,"v":0.055,"T":"450 K"},{"t":5.8,"v":0.073,"T":"450 K"},{"t":5.9,"v":0.044,"T":"450 K"},
{"t":6.0,"v":0.030,"T":"450 K"},{"t":6.1,"v":0.066,"T":"450 K"},{"t":6.2,"v":0.070,"T":"450 K"},{"t":6.3,"v":0.028,"T":"450 K"},{"t":6.4,"v":0.044,"T":"450 K"},{"t":6.5,"v":0.060,"T":"450 K"},{"t":6.6,"v":0.080,"T":"450 K"},{"t":6.7,"v":0.039,"T":"450 K"},{"t":6.8,"v":0.002,"T":"450 K"},{"t":6.9,"v":0.088,"T":"450 K"},
{"t":7.0,"v":0.063,"T":"450 K"},{"t":7.1,"v":0.036,"T":"450 K"},{"t":7.2,"v":0.017,"T":"450 K"},{"t":7.3,"v":0.074,"T":"450 K"},{"t":7.4,"v":0.039,"T":"450 K"},{"t":7.5,"v":0.060,"T":"450 K"},{"t":7.6,"v":0.071,"T":"450 K"},{"t":7.7,"v":0.047,"T":"450 K"},{"t":7.8,"v":0.060,"T":"450 K"},{"t":7.9,"v":0.045,"T":"450 K"},{"t":8.0,"v":0.055,"T":"450 K"}
]
},
"hconcat": [
{
"spacing": 47.5,
"hconcat": [
{
"width": 830, "height": 617,
"data": {"name": "p1"},
"title": {"text": "DPPC - DAPC - CHOL", "dx": -30, "offset": 25},
"mark": {"type": "line", "strokeWidth": 5.5, "clip": true},
"encoding": {
"x": {"field": "t", "type": "quantitative", "scale": {"domain": [0, 8], "nice": false, "zero": false},
"axis": {"values": [0, 2, 4, 6, 8], "title": "Time (µs)", "titleX": 389, "titleY": 116, "labelFontSize": 36, "labelPadding": 5, "tickSize": 6.5, "labelFlush": false}},
"y": {"field": "v", "type": "quantitative", "scale": {"domain": [0, 1], "nice": false},
"axis": {"values": [0, 0.2, 0.4, 0.6, 0.8, 1.0], "format": ".1f", "title": "FLC", "titleFontSize": 69, "titleX": -93, "titleY": 327, "titleAngle": -90, "titleAlign": "center", "titleBaseline": "alphabetic", "labelFontSize": 36, "labelPadding": 7, "tickSize": 7}},
"color": {"field": "T", "type": "nominal", "scale": {"domain": ["298 K", "323 K", "423 K", "450 K"], "range": ["#1f77b4", "#ff7f0e", "#2ca02c", "#d62728"]},
"legend": {"title": null, "orient": "none", "legendX": 386, "legendY": 772, "direction": "horizontal", "columns": 4}}
}
},
{
"width": 828, "height": 617,
"data": {"name": "p2"},
"title": {"text": "DPPC - DIPC - CHOL", "dx": 11, "offset": 41.5},
"mark": {"type": "line", "strokeWidth": 5.5, "clip": true},
"encoding": {
"x": {"field": "t", "type": "quantitative", "scale": {"domain": [0, 8], "nice": false, "zero": false},
"axis": {"values": [0, 2, 4, 6, 8], "title": "Time (µs)", "titleX": 421, "titleY": 116, "labelFontSize": 36, "labelPadding": 5, "tickSize": 6.5, "labelFlush": false}},
"y": {"field": "v", "type": "quantitative", "scale": {"domain": [0, 1], "nice": false},
"axis": {"values": [0, 0.2, 0.4, 0.6, 0.8, 1.0], "labels": false, "title": null, "tickSize": 7}},
"color": {"field": "T", "type": "nominal", "scale": {"domain": ["298 K", "323 K", "423 K", "450 K"], "range": ["#1f77b4", "#ff7f0e", "#2ca02c", "#d62728"]},
"legend": {"title": null, "orient": "none", "legendX": 386, "legendY": 772, "direction": "horizontal", "columns": 4}}
}
}
]
},
{
"width": 828, "height": 617,
"data": {"name": "p3"},
"title": {"text": "DPPC - POPC - CHOL", "dx": 15, "offset": 41.5},
"mark": {"type": "line", "strokeWidth": 5.5, "clip": true},
"encoding": {
"x": {"field": "t", "type": "quantitative", "scale": {"domain": [0, 8], "nice": false, "zero": false},
"axis": {"values": [0, 2, 4, 6, 8], "title": "Time (µs)", "titleX": 419, "titleY": 116, "labelFontSize": 36, "labelPadding": 5, "tickSize": 6.5, "labelFlush": false}},
"y": {"field": "v", "type": "quantitative", "scale": {"domain": [0, 1], "nice": false},
"axis": {"values": [0, 0.2, 0.4, 0.6, 0.8, 1.0], "labels": false, "title": null, "tickSize": 7}},
"color": {"field": "T", "type": "nominal", "scale": {"domain": ["298 K", "323 K", "423 K", "450 K"], "range": ["#1f77b4", "#ff7f0e", "#2ca02c", "#d62728"]},
"legend": {"title": null, "orient": "none", "legendX": 386, "legendY": 772, "direction": "horizontal", "columns": 4}}
}
}
],
"config": {
"view": {"stroke": "black", "strokeWidth": 3},
"axis": {"grid": false, "domain": false, "tickColor": "black", "tickWidth": 2, "labelColor": "black", "titleColor": "black", "labelFont": "DejaVu Sans", "titleFont": "Liberation Serif", "titleFontWeight": "bold", "titleFontSize": 53, "titleBaseline": "alphabetic", "labelOverlap": false},
"title": {"font": "Liberation Serif", "fontSize": 59, "fontWeight": "normal", "color": "black", "anchor": "middle", "baseline": "alphabetic"},
"legend": {"symbolType": "stroke", "symbolSize": 9216, "symbolStrokeWidth": 8, "clipHeight": 80, "labelFont": "Liberation Serif", "labelFontSize": 54, "labelColor": "black", "labelOffset": 15, "columnPadding": 242, "padding": 0, "labelLimit": 400, "offset": 0}
}
}
